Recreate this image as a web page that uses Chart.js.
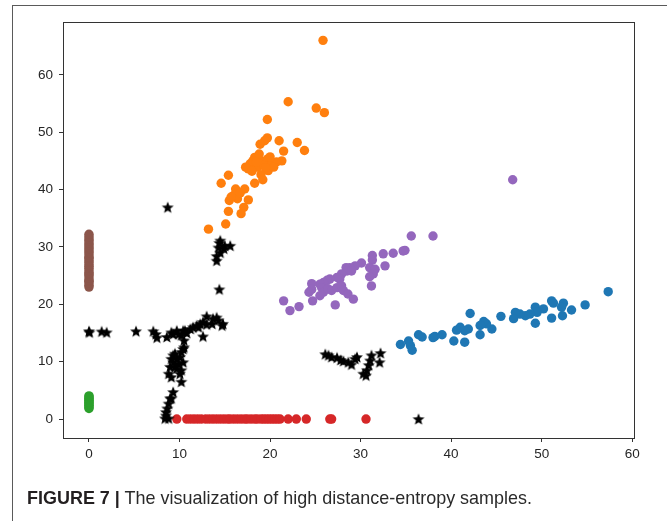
<!DOCTYPE html>
<html><head><meta charset="utf-8">
<script src="https://cdn.jsdelivr.net/npm/chart.js@4.4.1/dist/chart.umd.min.js"></script>
<style>
html,body{margin:0;padding:0;background:#fff;width:667px;height:521px;overflow:hidden;}
#frame{position:absolute;left:12px;top:5px;width:700px;height:600px;border:1.5px solid #5a5a5a;box-sizing:border-box;}
#wrap{position:absolute;left:0;top:0;width:667px;height:521px;}
#cap{position:absolute;left:27px;top:488px;font-family:'Liberation Sans',Arial,sans-serif;font-size:19px;line-height:19px;color:#2a2a2a;white-space:nowrap;transform-origin:0 0;}
#cap b{color:#231f20;}
</style></head>
<body>
<div id="frame"></div>
<div id="wrap"><canvas id="c" width="667" height="521"></canvas></div>
<div id="cap"><b>FIGURE 7 |</b> The visualization of high distance-entropy samples.</div>
<script>
// ---- data ----
const xTicks = [0, 10, 20, 30, 40, 50, 60];
const yTicks = [0, 10, 20, 30, 40, 50, 60];

const blueX = [57.35,54.8,53.3,52.4,52.2,52.3,51.1,51.3,51.1,50.2,49.3,49.5,48.7,48.2,47.6,47.1,46.9,49.3,45.5,44.5,43.9,43.6,43.2,43.2,42.1,41.9,41.5,41.0,40.6,41.5,40.3,39.0,38.2,38.0,36.8,36.4,35.5,35.3,35.7,34.4];
const blueY = [22.2,19.9,19.0,20.2,19.5,18.0,20.6,20.2,17.6,19.2,19.5,18.6,18.3,18.0,18.3,18.6,17.5,16.7,17.9,15.7,16.6,17.0,16.3,14.7,18.4,15.7,15.4,16.0,15.5,13.4,13.6,14.7,14.4,14.2,14.3,14.7,12.8,13.6,12.0,13.0];

const orangeX = [25.85,22.0,25.1,26.0,19.7,19.7,19.4,18.9,21.0,23.0,23.8,21.5,21.3,18.3,19.0,19.7,17.8,17.3,18.6,19.3,20.2,20.7,17.6,19.8,20.4,18.8,18.1,18.5,19.5,20.0,18.0,19.0,18.3,19.2,15.4,14.6,16.2,17.2,17.6,15.5,16.0,16.4,15.7,16.7,17.1,15.4,16.8,15.1,13.2];
const orangeY = [66.0,55.3,54.2,53.4,52.2,49.0,48.5,47.9,48.5,48.2,46.8,46.7,45.0,45.6,45.0,45.3,44.5,43.9,43.9,44.2,44.5,44.8,43.6,43.3,43.9,46.2,45.0,44.8,43.8,45.7,43.2,42.6,41.1,41.7,42.5,41.1,40.1,40.1,38.2,38.1,39.0,38.4,38.7,39.4,36.9,36.2,35.8,34.0,33.1];

const greenX = 0;
const greenY = [1.85,2.0,2.3,2.4,2.7,2.9,3.0,3.3,3.5,3.6,3.9,4.05];

const redY = 0;
const redX = [9.7,10.8,11.2,11.6,12.0,12.4,12.9,13.3,13.7,14.1,14.5,14.9,15.3,15.6,16.0,16.4,16.8,17.2,17.5,17.9,18.3,18.6,19.0,19.3,19.6,19.9,20.2,20.5,20.8,21.1,22.0,22.9,24.0,26.6,26.8,30.6];

const purpleX = [46.8,38.0,35.6,34.9,34.7,33.6,32.5,31.3,31.3,32.7,30.1,29.4,28.8,28.4,28.5,29.0,31.0,31.6,31.4,31.0,31.2,27.9,27.7,27.4,26.6,26.3,25.9,25.5,24.6,24.6,24.3,25.7,25.9,26.4,26.8,27.4,27.9,28.1,28.6,29.2,24.7,25.5,27.2,23.2,22.2,21.5];
const purpleY = [41.7,31.9,31.9,29.4,29.3,28.9,28.8,28.5,27.7,26.7,27.2,26.7,26.4,26.4,25.8,25.8,26.4,26.1,25.3,24.8,23.2,25.3,24.4,24.7,24.4,24.2,23.8,23.5,23.6,22.6,22.1,22.9,22.1,22.7,22.4,22.9,23.2,22.4,21.8,20.9,20.6,21.5,19.9,19.6,18.9,20.6];

const brownX = 0;
const brownY = [23.0,23.3,23.7,24.0,24.2,24.6,25.0,25.3,25.5,25.9,26.3,26.6,26.9,27.3,27.6,28.0,28.2,28.6,29.0,29.3,29.7,30.0,30.4,30.7,31.1,31.4,31.8,32.2];

const starX = [0.0,0.05,1.4,1.95,5.2,7.1,7.4,7.5,8.6,9.1,9.3,9.7,9.9,10.2,10.4,10.6,10.8,11.2,11.5,11.9,12.1,12.3,12.6,12.6,13.0,13.0,13.6,13.7,14.1,14.3,14.7,14.8,
  10.5,10.4,10.5,10.2,9.5,9.3,10.05,9.7,9.1,9.3,9.9,10.4,8.95,9.5,9.7,10.2,8.8,9.1,10.05,10.2,9.3,9.1,8.95,8.8,8.65,8.5,8.5,8.4,8.8,
  14.4,14.5,15.0,15.6,14.3,14.9,14.5,14.1,14.1,14.4,8.7,
  26.1,26.45,26.8,27.4,27.8,28.1,28.65,29.0,29.4,29.6,30.3,30.6,30.7,30.9,31.05,31.2,32.1,32.2,36.4];
const starY = [15.3,15.1,15.25,15.1,15.3,15.3,14.8,14.2,14.3,15.1,14.8,15.4,14.8,14.6,15.4,15.4,15.0,15.7,16.0,16.3,16.0,16.6,16.9,14.4,17.9,16.5,16.6,17.5,17.7,17.2,16.3,16.6,
  13.7,12.2,12.5,11.7,11.4,11.1,10.8,10.5,10.5,9.9,9.6,9.9,9.1,9.1,8.8,8.5,7.9,7.3,7.9,6.5,4.7,3.6,3.6,2.7,1.85,1.2,0.6,0.1,0.1,
  30.7,31.1,30.2,30.2,29.9,29.7,29.0,28.4,27.6,22.6,36.9,
  11.3,11.1,10.8,10.7,10.3,10.1,9.9,9.5,10.5,10.8,7.9,7.6,8.5,9.4,10.2,11.1,9.9,11.5,0.0];

// ---- build ----
const pts = (xs, ys) => xs.map((x, i) => ({x, y: ys[i]}));
const colX = (x, ys) => ys.map(y => ({x, y}));
const rowY = (xs, y) => xs.map(x => ({x, y}));

function makeStar(){
  const c = document.createElement('canvas'); c.width = 14; c.height = 14;
  const g = c.getContext('2d'); g.fillStyle = '#000'; g.beginPath();
  const R = 6.3, r = 2.7;
  for (let i = 0; i < 10; i++) {
    const a = -Math.PI/2 + i*Math.PI/5, rr = i % 2 ? r : R;
    g.lineTo(7 + rr*Math.cos(a), 7.5 + rr*Math.sin(a));
  }
  g.closePath(); g.fill(); return c;
}
const star = makeStar();

function ds(data, color, order){
  return {data, backgroundColor: color, borderColor: color, borderWidth: 0, pointRadius: 4.7, pointHoverRadius: 4.7, order};
}

const framePlugin = {id: 'frame', afterDraw(ch){
  const {ctx, chartArea: a} = ch; ctx.save(); ctx.strokeStyle = '#333'; ctx.lineWidth = 1;
  ctx.strokeRect(Math.round(a.left) + 0.5, Math.round(a.top) + 0.5, Math.round(a.right - a.left), Math.round(a.bottom - a.top));
  ctx.restore();
}};

const tickFont = {family: "'Liberation Sans', Arial, sans-serif", size: 13.5};

new Chart(document.getElementById('c'), {
  type: 'scatter',
  data: {datasets: [
    ds(pts(blueX, blueY), '#1f77b4', 7),
    ds(pts(orangeX, orangeY), '#ff7f0e', 6),
    ds(colX(greenX, greenY), '#2ca02c', 5),
    ds(rowY(redX, redY), '#d62728', 4),
    ds(pts(purpleX, purpleY), '#9467bd', 3),
    ds(colX(brownX, brownY), '#8c564b', 2),
    {data: pts(starX, starY), pointStyle: star, pointRadius: 5, backgroundColor: '#000', borderColor: '#000', order: 0}
  ]},
  options: {
    responsive: false, animation: false, devicePixelRatio: 1,
    layout: {padding: {top: 22, right: 33, left: 0, bottom: 0}},
    plugins: {legend: {display: false}, tooltip: {enabled: false}},
    scales: {
      x: {type: 'linear', min: -2.87, max: 60.2,
        afterBuildTicks: s => { s.ticks = xTicks.map(v => ({value: v})); },
        afterFit: s => { s.height = 83; },
        grid: {drawOnChartArea: false, drawTicks: true, tickLength: 4, color: '#333', lineWidth: 1},
        border: {display: false},
        ticks: {font: tickFont, color: '#262626', padding: 4, maxRotation: 0}
      },
      y: {type: 'linear', min: -3.3, max: 69.2,
        afterBuildTicks: s => { s.ticks = yTicks.map(v => ({value: v})); },
        afterFit: s => { s.width = 63; },
        grid: {drawOnChartArea: false, drawTicks: true, tickLength: 4, color: '#333', lineWidth: 1},
        border: {display: false},
        ticks: {font: tickFont, color: '#262626', padding: 6}
      }
    }
  },
  plugins: [framePlugin]
});

// fit caption width to the reference (about 505px wide)
const cap = document.getElementById('cap');
const w = cap.getBoundingClientRect().width;
cap.style.transform = 'scaleX(' + (505 / w) + ')';
</script>
</body></html>
